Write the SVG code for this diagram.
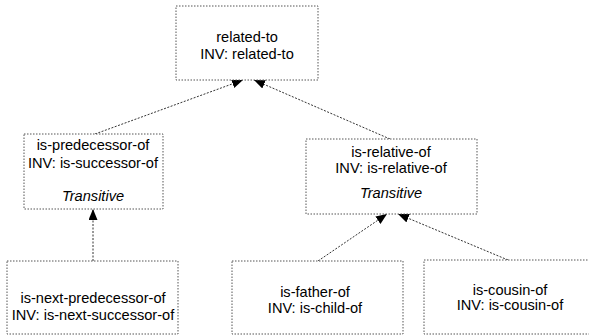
<svg xmlns="http://www.w3.org/2000/svg" width="589" height="335" viewBox="0 0 589 335">
<style>
.box{fill:#ffffff;stroke:#555555;stroke-width:1;stroke-dasharray:1.5,1.5}
.t{font-family:"Liberation Sans",Arial,sans-serif;font-size:14.6px;fill:#000000;text-anchor:middle}
.it{font-style:italic}
.c{fill:none;stroke:#333333;stroke-width:1;stroke-dasharray:2,1.5}
</style>
<defs>
<marker id="ah" markerUnits="userSpaceOnUse" markerWidth="12" markerHeight="10" refX="11" refY="4.5" orient="auto">
<path d="M0,0 L11,4.5 L0,9 z" fill="#000000"/>
</marker>
</defs>
<rect width="589" height="335" fill="#ffffff"/>
<g id="connectors">
<line class="c" x1="95" y1="134" x2="243" y2="80" marker-end="url(#ah)"/>
<line class="c" x1="390" y1="139" x2="254" y2="80" marker-end="url(#ah)"/>
<line class="c" x1="93" y1="261" x2="93" y2="209" marker-end="url(#ah)"/>
<line class="c" x1="318" y1="261" x2="387" y2="214" marker-end="url(#ah)"/>
<line class="c" x1="508" y1="260" x2="398" y2="214" marker-end="url(#ah)"/>
</g>
<g id="related-to">
<rect class="box" x="176" y="6" width="142" height="74"/>
<text class="t" x="247" y="42">related-to</text>
<text class="t" x="247" y="59">INV: related-to</text>
</g>
<g id="is-predecessor-of">
<rect class="box" x="24" y="134" width="139" height="75"/>
<text class="t" x="93" y="150">is-predecessor-of</text>
<text class="t" x="93" y="168">INV: is-successor-of</text>
<text class="t it" x="93" y="201">Transitive</text>
</g>
<g id="is-relative-of">
<rect class="box" x="306" y="139" width="171" height="75"/>
<text class="t" x="391" y="157">is-relative-of</text>
<text class="t" x="391" y="173">INV: is-relative-of</text>
<text class="t it" x="391" y="198">Transitive</text>
</g>
<g id="is-next-predecessor-of">
<rect class="box" x="7" y="261" width="171" height="73"/>
<text class="t" x="93" y="303">is-next-predecessor-of</text>
<text class="t" x="93" y="320">INV: is-next-successor-of</text>
</g>
<g id="is-father-of">
<rect class="box" x="232" y="261" width="171" height="73"/>
<text class="t" x="315" y="297">is-father-of</text>
<text class="t" x="315" y="313">INV: is-child-of</text>
</g>
<g id="is-cousin-of">
<rect class="box" x="424" y="260" width="172" height="74"/>
<text class="t" x="510" y="295">is-cousin-of</text>
<text class="t" x="510" y="310">INV: is-cousin-of</text>
</g>
</svg>
